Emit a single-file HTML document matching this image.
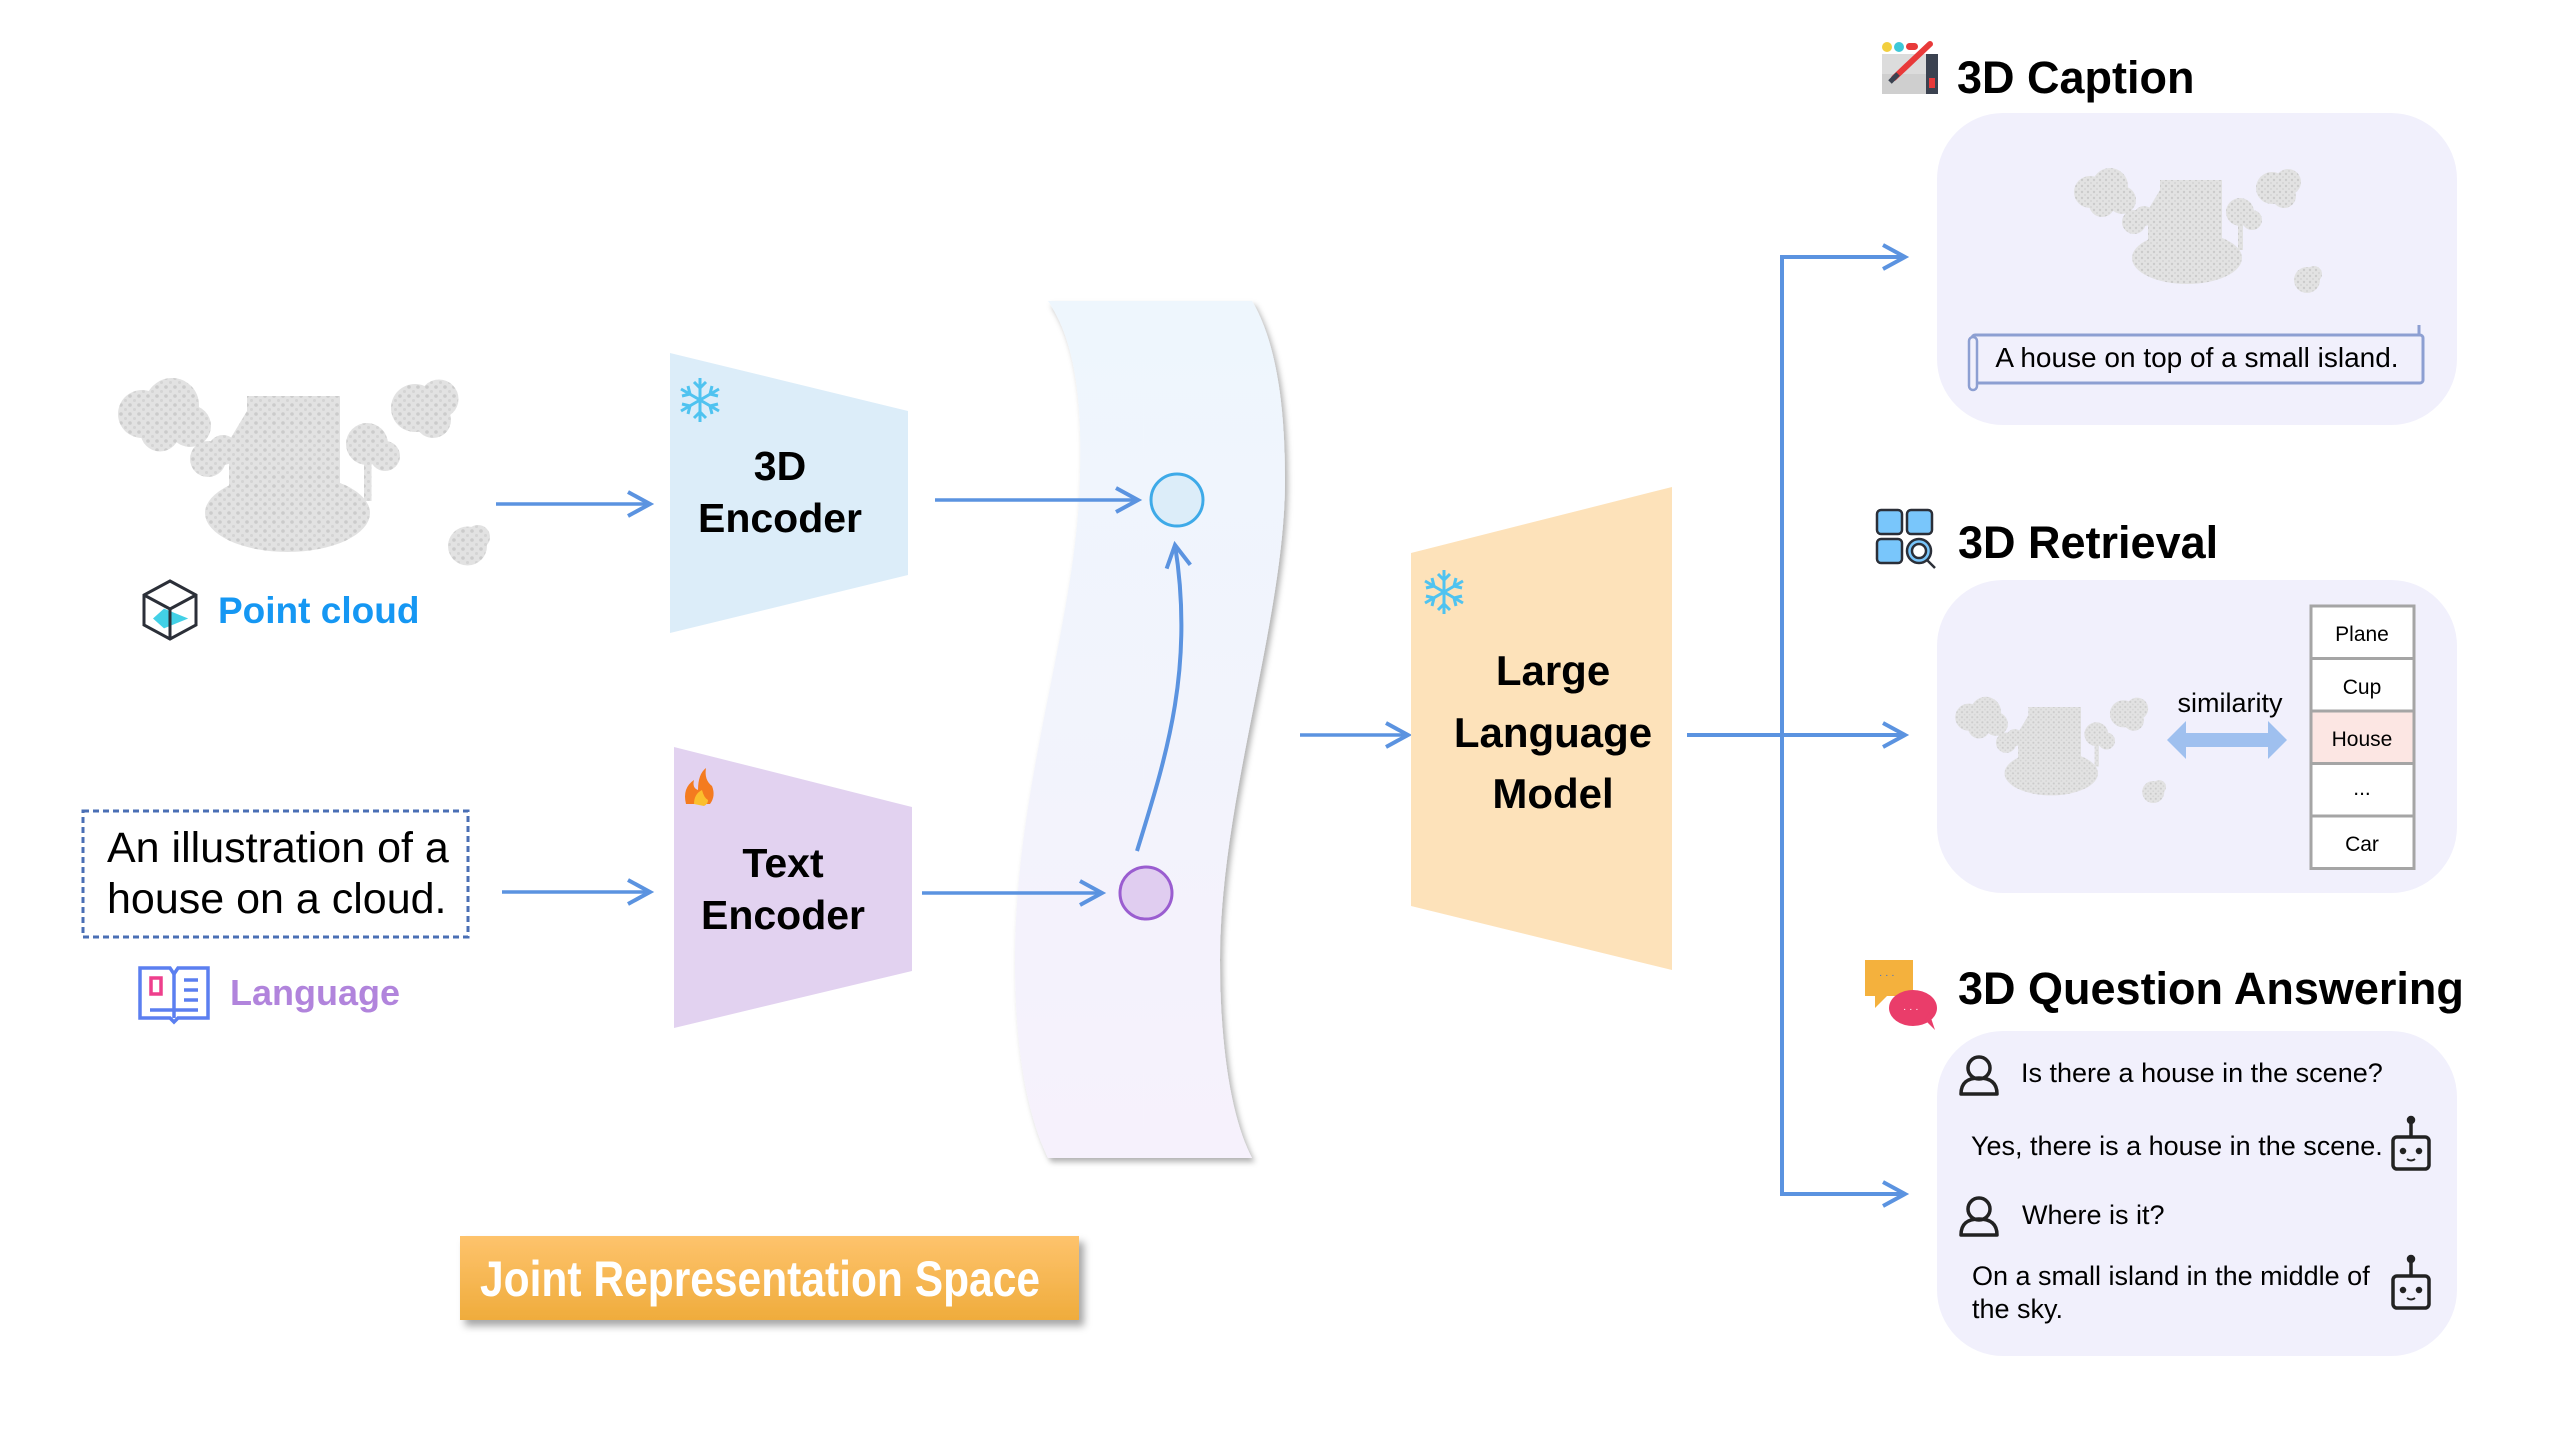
<!DOCTYPE html>
<html><head><meta charset="utf-8"><style>
html,body{margin:0;padding:0;background:#fff;}
svg{display:block;}
text{font-family:"Liberation Sans",Arial,sans-serif;}
</style></head><body>
<svg width="2560" height="1440" viewBox="0 0 2560 1440" xmlns="http://www.w3.org/2000/svg">
<defs>
  <pattern id="dots" width="6" height="6" patternUnits="userSpaceOnUse">
    <rect width="6" height="6" fill="#e2e2e2"/>
    <circle cx="2" cy="2" r="1.2" fill="#cbcbcb"/>
    <circle cx="5" cy="5" r="1" fill="#d4d4d4"/>
  </pattern>
  <g id="pc">
    <g fill="url(#dots)">
      <circle cx="28" cy="32" r="16"/><circle cx="48" cy="26" r="18"/><circle cx="60" cy="40" r="14"/><circle cx="40" cy="44" r="13"/>
      <circle cx="72" cy="62" r="12"/><circle cx="82" cy="56" r="10"/>
      <rect x="98" y="20" width="62" height="72"/>
      <polygon points="86,50 98,30 110,50 110,90 86,90"/>
      <ellipse cx="125" cy="98" rx="55" ry="26"/>
      <circle cx="178" cy="52" r="14"/><circle cx="190" cy="60" r="10"/>
      <rect x="176" y="60" width="5" height="30"/>
      <circle cx="210" cy="28" r="16"/><circle cx="226" cy="22" r="13"/><circle cx="222" cy="36" r="12"/>
      <circle cx="245" cy="120" r="13"/><circle cx="252" cy="114" r="8"/>
    </g>
  </g>
  <marker id="ah2" markerWidth="30" markerHeight="30" refX="24" refY="15" orient="auto" markerUnits="userSpaceOnUse">
    <path d="M2,3 L24,15 L2,27" fill="none" stroke="#5b93e0" stroke-width="4"/>
  </marker>
  <linearGradient id="band" x1="0" y1="0" x2="0" y2="1">
    <stop offset="0" stop-color="#eef6fd"/><stop offset="1" stop-color="#f6f1fc"/>
  </linearGradient>
  <linearGradient id="org" x1="0" y1="0" x2="0" y2="1">
    <stop offset="0" stop-color="#fec36c"/><stop offset="1" stop-color="#efac3c"/>
  </linearGradient>
  <filter id="sh" x="-10%" y="-10%" width="130%" height="140%"><feDropShadow dx="5" dy="6" stdDeviation="4" flood-color="#000" flood-opacity="0.35"/></filter>
  <filter id="sh2" x="-10%" y="-5%" width="120%" height="110%"><feDropShadow dx="3" dy="4" stdDeviation="3" flood-color="#000" flood-opacity="0.3"/></filter>
  <g id="snow" stroke="#4fc3f0" stroke-width="3" fill="none">
    <line x1="0" y1="-22" x2="0" y2="22"/><line x1="-19" y1="-11" x2="19" y2="11"/><line x1="-19" y1="11" x2="19" y2="-11"/>
    <path d="M-6,-18 L0,-12 L6,-18 M-6,18 L0,12 L6,18 M-18,-4 L-10,-6 L-12,-14 M18,4 L10,6 L12,14 M-18,4 L-10,6 L-12,14 M18,-4 L10,-6 L12,-14"/>
  </g>
  <g id="person" fill="none" stroke="#222" stroke-width="3.5">
    <circle cx="0" cy="-10" r="11"/><path d="M-18,16 Q-18,0 0,0 Q18,0 18,16 Z" stroke-linejoin="round"/>
  </g>
  <g id="robot" fill="none" stroke="#222" stroke-width="3.5">
    <rect x="-18" y="-14" width="36" height="32" rx="4"/><line x1="0" y1="-14" x2="0" y2="-30"/><circle cx="0" cy="-31" r="2.5" fill="#222"/>
    <circle cx="-8" cy="0" r="1.5" fill="#222"/><circle cx="8" cy="0" r="1.5" fill="#222"/><path d="M-4,8 Q0,11 4,8" stroke-width="2"/>
  </g>
</defs>

<path filter="url(#sh2)" d="M1048,301 C1075,340 1082,400 1080,473 C1078,620 1015,780 1015,960 C1015,1060 1030,1120 1048,1158 L1252,1158 C1232,1120 1220,1050 1220,960 C1220,800 1285,620 1285,480 C1285,400 1275,340 1252,301 Z" fill="url(#band)"/>

<use href="#pc" transform="translate(100,366) scale(1.5)"/>
<g transform="translate(170,611)" stroke="#2b2f38" stroke-width="3" fill="none">
  <polygon points="-10,5 0,-4 22,5 0,14" fill="#42d0e6" stroke="none" transform="translate(-6,2) scale(1.1)"/>
  <polygon points="0,-30 26,-16 26,14 0,28 -26,14 -26,-16"/>
  <polyline points="-26,-16 0,-2 26,-16"/><line x1="0" y1="-2" x2="0" y2="28"/>
</g>
<text x="218" y="623" font-size="37" font-weight="bold" fill="#1597f3">Point cloud</text>

<rect x="83" y="811" width="385" height="126" fill="none" stroke="#4a6fb5" stroke-width="3" stroke-dasharray="6,4"/>
<text x="107" y="862" font-size="43" fill="#000">An illustration of a</text>
<text x="107" y="913" font-size="43" fill="#000">house on a cloud.</text>
<g transform="translate(140,964)" fill="none" stroke="#5b7ff0" stroke-width="3.5">
  <path d="M0,4 L30,4 L34,10 L38,4 L68,4 L68,54 L38,54 L34,58 L30,54 L0,54 Z"/>
  <line x1="34" y1="10" x2="34" y2="54"/>
  <rect x="11" y="14" width="10" height="16" stroke="#ee3f8c"/>
  <line x1="44" y1="16" x2="58" y2="16"/><line x1="44" y1="26" x2="58" y2="26"/><line x1="44" y1="36" x2="58" y2="36"/><line x1="10" y1="46" x2="58" y2="46"/>
</g>
<text x="230" y="1005" font-size="36" font-weight="bold" fill="#b184dc">Language</text>

<line x1="496" y1="504" x2="650" y2="504" stroke="#5b93e0" stroke-width="3.5" marker-end="url(#ah2)"/>
<line x1="502" y1="892" x2="650" y2="892" stroke="#5b93e0" stroke-width="3.5" marker-end="url(#ah2)"/>

<polygon points="670,353 908,411 908,575 670,633" fill="#dcedf9"/>
<use href="#snow" transform="translate(700,400)"/>
<text x="780" y="480" font-size="41" font-weight="bold" text-anchor="middle">3D</text>
<text x="780" y="532" font-size="41" font-weight="bold" text-anchor="middle">Encoder</text>

<polygon points="674,747 912,807 912,971 674,1028" fill="#e2d2f0"/>
<g transform="translate(700,790)">
  <path d="M-14,14 Q-18,-2 -6,-10 Q-8,-2 -2,0 Q-2,-16 6,-22 Q4,-10 12,-4 Q16,6 10,14 Z" fill="#f47b1f"/>
  <path d="M-6,14 Q-6,4 2,0 Q4,8 8,10 Q8,14 4,16 Z" fill="#fbbf2d"/>
</g>
<text x="783" y="877" font-size="41" font-weight="bold" text-anchor="middle">Text</text>
<text x="783" y="929" font-size="41" font-weight="bold" text-anchor="middle">Encoder</text>

<line x1="935" y1="500" x2="1138" y2="500" stroke="#5b93e0" stroke-width="3.5" marker-end="url(#ah2)"/>
<line x1="922" y1="893" x2="1102" y2="893" stroke="#5b93e0" stroke-width="3.5" marker-end="url(#ah2)"/>

<circle cx="1177" cy="500" r="26" fill="#dcedf9" stroke="#3eaae8" stroke-width="3"/>
<circle cx="1146" cy="893" r="26" fill="#e0cdf0" stroke="#9a5dd0" stroke-width="3"/>
<path d="M1137,851 C1165,760 1195,670 1175,545" fill="none" stroke="#5b93e0" stroke-width="4" marker-end="url(#ah2)"/>

<rect x="460" y="1236" width="619" height="84" fill="url(#org)" filter="url(#sh)"/>
<text x="480" y="1296" font-size="50" font-weight="bold" fill="#fff" textLength="560" lengthAdjust="spacingAndGlyphs">Joint Representation Space</text>

<line x1="1300" y1="735" x2="1408" y2="735" stroke="#5b93e0" stroke-width="3.5" marker-end="url(#ah2)"/>

<polygon points="1411,553 1672,487 1672,970 1411,906" fill="#fde2ba"/>
<use href="#snow" transform="translate(1444,592)"/>
<text x="1553" y="685" font-size="42" font-weight="bold" text-anchor="middle">Large</text>
<text x="1553" y="747" font-size="42" font-weight="bold" text-anchor="middle">Language</text>
<text x="1553" y="808" font-size="42" font-weight="bold" text-anchor="middle">Model</text>

<line x1="1687" y1="735" x2="1782" y2="735" stroke="#5b93e0" stroke-width="4"/>
<polyline points="1880,257 1782,257 1782,1194 1880,1194" fill="none" stroke="#5b93e0" stroke-width="4"/>
<line x1="1782" y1="257" x2="1905" y2="257" stroke="#5b93e0" stroke-width="4" marker-end="url(#ah2)"/>
<line x1="1782" y1="735" x2="1905" y2="735" stroke="#5b93e0" stroke-width="4" marker-end="url(#ah2)"/>
<line x1="1782" y1="1194" x2="1905" y2="1194" stroke="#5b93e0" stroke-width="4" marker-end="url(#ah2)"/>

<g transform="translate(1882,42)">
  <rect x="0" y="12" width="56" height="40" fill="#dcdcdc"/><rect x="0" y="32" width="56" height="20" fill="#cfcfcf"/>
  <rect x="44" y="12" width="12" height="40" fill="#3b4250"/><rect x="47" y="36" width="6" height="10" fill="#e83a3a"/>
  <circle cx="5" cy="5" r="5" fill="#f2cf3e"/><circle cx="17" cy="5" r="5" fill="#3ec8d8"/><rect x="24" y="1" width="12" height="7" rx="3.5" fill="#e83a3a"/>
  <line x1="12" y1="36" x2="48" y2="2" stroke="#e83a3a" stroke-width="6" stroke-linecap="round"/>
  <line x1="8" y1="40" x2="16" y2="32" stroke="#3b4250" stroke-width="5"/>
</g>
<text x="1957" y="93" font-size="45" font-weight="bold">3D Caption</text>
<rect x="1937" y="113" width="520" height="312" rx="66" fill="#f1f0fc"/>
<use href="#pc" transform="translate(2062,160)"/>
<rect x="1972" y="335" width="451" height="48" rx="3" fill="none" stroke="#8d9fd2" stroke-width="3"/>
<rect x="1969" y="337" width="8" height="53" rx="4" fill="#f1f0fc" stroke="#8d9fd2" stroke-width="2.5"/>
<line x1="2419" y1="325" x2="2419" y2="335" stroke="#8d9fd2" stroke-width="3"/>
<text x="2197" y="367" font-size="28" text-anchor="middle">A house on top of a small island.</text>

<g transform="translate(1877,510)" stroke="#2b2f38" stroke-width="2.5" fill="#79c6fb">
  <rect x="0" y="0" width="25" height="24" rx="4"/><rect x="30" y="0" width="25" height="24" rx="4"/>
  <rect x="0" y="29" width="25" height="24" rx="4"/>
  <circle cx="42" cy="41" r="12"/><circle cx="42" cy="41" r="7" fill="#fff"/><line x1="50" y1="50" x2="58" y2="58"/>
</g>
<text x="1958" y="558" font-size="45" font-weight="bold">3D Retrieval</text>
<rect x="1937" y="580" width="520" height="313" rx="66" fill="#f1f0fc"/>
<use href="#pc" transform="translate(1945,690) scale(0.85)"/>
<text x="2230" y="712" font-size="27" text-anchor="middle">similarity</text>
<polygon points="2167,740 2186,721 2186,733 2268,733 2268,721 2287,740 2268,759 2268,747 2186,747 2186,759" fill="#9fc0ef"/>
<g stroke="#a5a5a5" stroke-width="3">
  <rect x="2311" y="606" width="103" height="52.5" fill="#fff"/>
  <rect x="2311" y="658.5" width="103" height="52.5" fill="#fff"/>
  <rect x="2311" y="711" width="103" height="52.5" fill="#fce6e3"/>
  <rect x="2311" y="763.5" width="103" height="52.5" fill="#fff"/>
  <rect x="2311" y="816" width="103" height="52.5" fill="#fff"/>
</g>
<g font-size="21" text-anchor="middle">
  <text x="2362" y="641">Plane</text><text x="2362" y="694">Cup</text><text x="2362" y="746">House</text>
  <text x="2362" y="795">...</text><text x="2362" y="851">Car</text>
</g>

<g transform="translate(1865,960)">
  <path d="M0,0 L48,0 L48,36 L22,36 L10,48 L10,36 L0,36 Z" fill="#f4b13d"/>
  <ellipse cx="48" cy="48" rx="24" ry="18" fill="#ea3d6a"/><path d="M60,60 L70,70 L64,52 Z" fill="#ea3d6a"/>
  <text x="14" y="18" font-size="10" fill="#3a6fd0">· · ·</text>
  <text x="38" y="52" font-size="10" fill="#fff">· · ·</text>
</g>
<text x="1958" y="1004" font-size="45" font-weight="bold">3D Question Answering</text>
<rect x="1937" y="1031" width="520" height="325" rx="66" fill="#f1f0fc"/>
<use href="#person" transform="translate(1979,1078)"/>
<text x="2021" y="1082" font-size="27">Is there a house in the scene?</text>
<text x="1971" y="1155" font-size="27">Yes, there is a house in the scene.</text>
<use href="#robot" transform="translate(2411,1151)"/>
<use href="#person" transform="translate(1979,1219)"/>
<text x="2022" y="1224" font-size="27">Where is it?</text>
<text x="1972" y="1285" font-size="27">On a small island in the middle of</text>
<text x="1972" y="1318" font-size="27">the sky.</text>
<use href="#robot" transform="translate(2411,1290)"/>
</svg>
</body></html>
